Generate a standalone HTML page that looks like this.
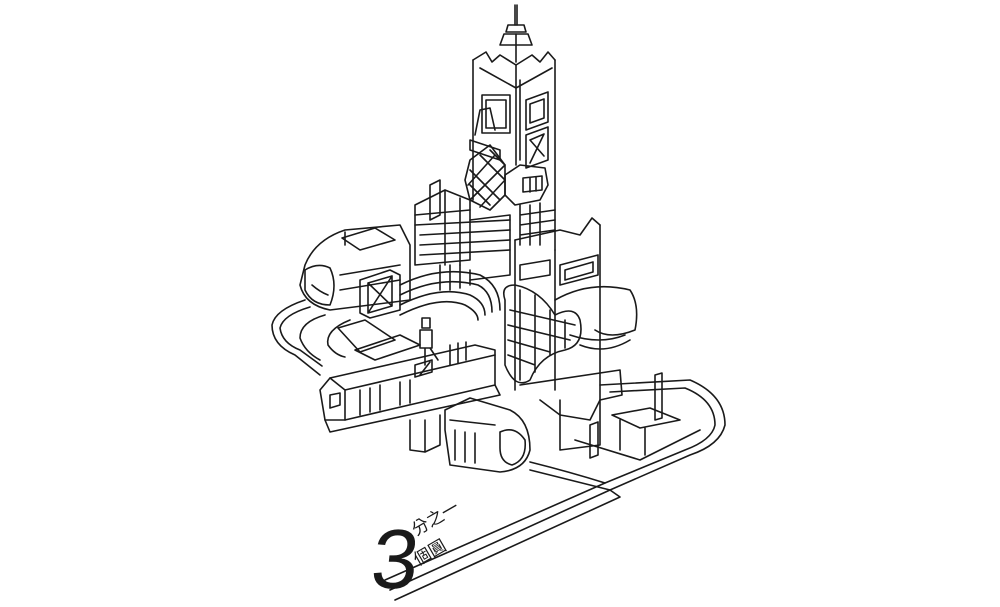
<!DOCTYPE html>
<html><head><meta charset="utf-8"><style>
html,body{margin:0;padding:0;background:#fff;width:1000px;height:607px;overflow:hidden}
svg{display:block}
</style></head><body>
<svg width="1000" height="607" viewBox="0 0 1000 607" xmlns="http://www.w3.org/2000/svg">
<g fill="none" stroke="#1a1a1a" stroke-width="1.6" stroke-linejoin="round" stroke-linecap="round">
<!-- spire -->
<line x1="515" y1="5" x2="515" y2="25"/><line x1="517" y1="5" x2="517" y2="25"/>
<path d="M508 25 L524 25 L526 32 L506 32 Z"/>
<path d="M504 34 L528 34 L532 45 L500 45 Z"/>
<path d="M516 34 L516 62"/>
<!-- crown -->
<path d="M473 60 L486 52 L492 62 L500 55 L516 65 L532 55 L540 62 L548 52 L555 60"/>
<path d="M480 68 L516 88 L552 68"/>
<!-- tower -->
<path d="M473 60 L473 200"/><path d="M555 60 L555 250"/>
<path d="M516 65 L516 165"/><path d="M520 80 L520 160"/>
<rect x="482" y="95" width="28" height="38"/><rect x="486" y="100" width="20" height="28"/>
<path d="M526 100 L548 92 L548 122 L526 130 Z"/><path d="M530 104 L544 99 L544 118 L530 123 Z"/>
<path d="M526 135 L548 127 L548 160 L526 168 Z"/><path d="M530 140 L544 134 L530 163 M530 140 L544 156"/>
<!-- hexagon -->
<path d="M505 175 L520 165 L545 168 L548 185 L540 200 L515 205 L505 195 Z"/>
<path d="M523 178 L542 176 L542 190 L523 192 Z"/><line x1="530" y1="178" x2="530" y2="192"/><line x1="536" y1="177" x2="536" y2="191"/>
<!-- grid lower tower -->
<path d="M520 205 L520 245 M530 205 L530 245 M540 203 L540 245 M520 215 L555 210 M520 225 L555 220 M520 235 L555 230"/>
<!-- diamond lattice -->
<path d="M470 160 L490 145 L505 165 L505 195 L490 210 L470 200 L465 180 Z"/>
<path d="M470 170 L500 200 M470 185 L490 205 M480 155 L505 180 M490 150 L505 165 M470 200 L505 165 M468 185 L495 155 M480 207 L505 180"/>
<path d="M475 135 L480 110 L490 108 L495 130 M470 140 L500 150 L500 160 L470 150 Z"/>
<!-- left building -->
<path d="M415 205 L445 190 L470 200 L470 260 L415 265 Z"/>
<path d="M430 185 L430 220 L440 215 L440 180 Z"/>
<path d="M415 215 L470 210 M415 225 L510 220 M420 235 L510 230 M420 245 L510 240 M420 255 L510 250"/>
<path d="M445 190 L445 265 M460 198 L460 265"/>
<path d="M470 220 L510 215 L510 275 L470 280"/>
<path d="M440 290 L440 265 M450 290 L450 265 M460 288 L460 265 M470 285 L470 270"/>
<!-- top train -->
<path d="M305 265 Q315 240 345 230 L400 225 L410 245 L410 300 L330 310 Q305 305 300 285 Z"/>
<path d="M342 238 L375 228 L395 240 L360 250 Z"/>
<path d="M345 232 L345 245"/>
<path d="M305 270 Q318 262 330 268 Q338 285 330 305 Q312 305 305 290 Z"/>
<path d="M312 285 Q320 292 328 295"/>
<path d="M340 275 L400 265 M340 290 L400 280"/>
<!-- arch bridge -->
<path d="M360 280 L390 270 L400 275 L400 310 L370 318 L360 313 Z"/>
<path d="M368 283 L392 276 L392 306 L368 313 Z M368 283 L392 306 M392 276 L368 313"/>
<path d="M400 285 Q440 265 480 275 Q500 285 500 310"/>
<path d="M400 295 Q440 275 478 285 Q492 292 492 312"/>
<path d="M400 305 Q440 285 470 295 Q485 302 485 315"/>
<path d="M400 315 Q440 295 465 305 Q478 312 478 320"/>
<!-- right building -->
<path d="M515 240 L515 390 M555 250 L555 390 M600 225 L600 400"/>
<path d="M515 240 L560 230 L580 235 L592 218 L600 225"/>
<path d="M560 265 L598 255 L598 275 L560 285 Z"/><path d="M565 270 L593 262 L593 272 L565 280 Z"/>
<path d="M520 265 L550 260 L550 275 L520 280 Z"/>
<!-- bean window -->
<path d="M505 300 Q500 285 515 285 Q540 290 555 315 Q575 305 580 320 Q585 345 565 350 Q540 355 530 380 Q515 390 505 365 Z"/>
<path d="M510 310 L575 325 M508 325 L570 340 M508 340 L550 352 M508 355 L535 365 M520 290 L520 380 M535 295 L535 372 M550 310 L550 355 M565 320 L565 348"/>
<!-- clouds right -->
<path d="M555 300 Q590 280 630 290 Q640 305 635 330 Q610 340 595 330"/>
<path d="M570 335 Q600 345 625 335 M580 345 Q605 355 630 340"/>
<path d="M520 385 L620 370 L622 395 L600 400 L590 420 L560 415 L540 400"/>
<path d="M560 400 L560 450 L600 445 L600 400"/>
<!-- lower train -->
<path d="M320 390 L330 378 L475 345 L495 350 L495 385 L345 420 L325 420 Z"/>
<path d="M330 378 L345 390 L345 420 M345 390 L495 355"/>
<path d="M330 395 L340 393 L340 405 L330 408 Z"/>
<path d="M360 390 L360 415 M370 388 L370 412 M380 385 L380 410 M400 382 L400 405 M410 380 L410 403"/>
<path d="M415 365 L432 360 L432 372 L415 377 Z M420 375 L430 362"/>
<path d="M450 345 L450 365 M458 343 L458 363 M466 342 L466 360"/>
<path d="M325 420 L330 432 L500 395 L495 385"/>
<path d="M355 350 L400 335 L420 345 L375 360 Z"/>
<!-- person -->
<rect x="422" y="318" width="8" height="10"/><path d="M420 330 L432 330 L432 348 L420 348 Z M425 348 L425 365 M430 348 L438 360"/>
<!-- pillar -->
<path d="M410 420 L410 450 L425 452 L425 420 M425 452 L440 445 L440 415"/>
<!-- bottom train -->
<path d="M445 410 L470 398 L510 410 Q530 420 530 450 Q525 470 500 472 L450 465 L445 430 Z"/>
<path d="M450 420 L495 425 M455 430 L455 460 M465 432 L465 462 M475 433 L475 463"/>
<path d="M500 432 Q515 425 525 440 Q527 460 512 465 Q500 462 500 448 Z"/>
<!-- left track loop -->
<path d="M305 300 Q275 310 272 325 Q272 345 295 355 L320 375"/>
<path d="M310 307 Q283 315 280 328 Q282 343 300 350 L322 366"/>
<path d="M325 315 Q300 322 300 338 Q305 352 320 360"/>
<path d="M350 320 Q325 330 328 345 Q335 355 345 357"/>
<path d="M338 328 L365 320 L395 340 L360 352 Z"/>
<!-- right track and station -->
<path d="M600 385 L690 380 Q725 395 725 425 Q720 445 690 455 L610 490"/>
<path d="M610 392 L685 388 Q715 400 715 425 Q712 440 685 450 L605 483"/>
<path d="M530 470 Q570 480 610 490 L390 590"/>
<path d="M530 462 Q570 472 605 483 L385 580"/>
<path d="M610 490 L620 497 L395 600"/>
<path d="M655 375 L655 420 L662 418 L662 373 Z"/>
<path d="M612 415 L650 408 L680 420 L640 428 Z M620 420 L620 450 M645 428 L645 455"/>
<path d="M590 425 L598 422 L598 455 L590 458 Z"/>
<path d="M575 440 L640 460 L700 430"/>
</g>
<g fill="#1a1a1a">
<text x="372" y="588" font-size="84" font-family="'Liberation Sans', sans-serif" font-weight="300" transform="skewX(-6)" transform-origin="395 560">3</text>
<text x="416" y="536" font-size="17" transform="rotate(-30 416 536)" font-family="'Noto Sans CJK TC', sans-serif">分之一</text>
<text x="418" y="566" font-size="17" transform="rotate(-30 418 566)" font-family="'Noto Sans CJK TC', sans-serif">個圓</text>
</g>
</svg>
</body></html>
